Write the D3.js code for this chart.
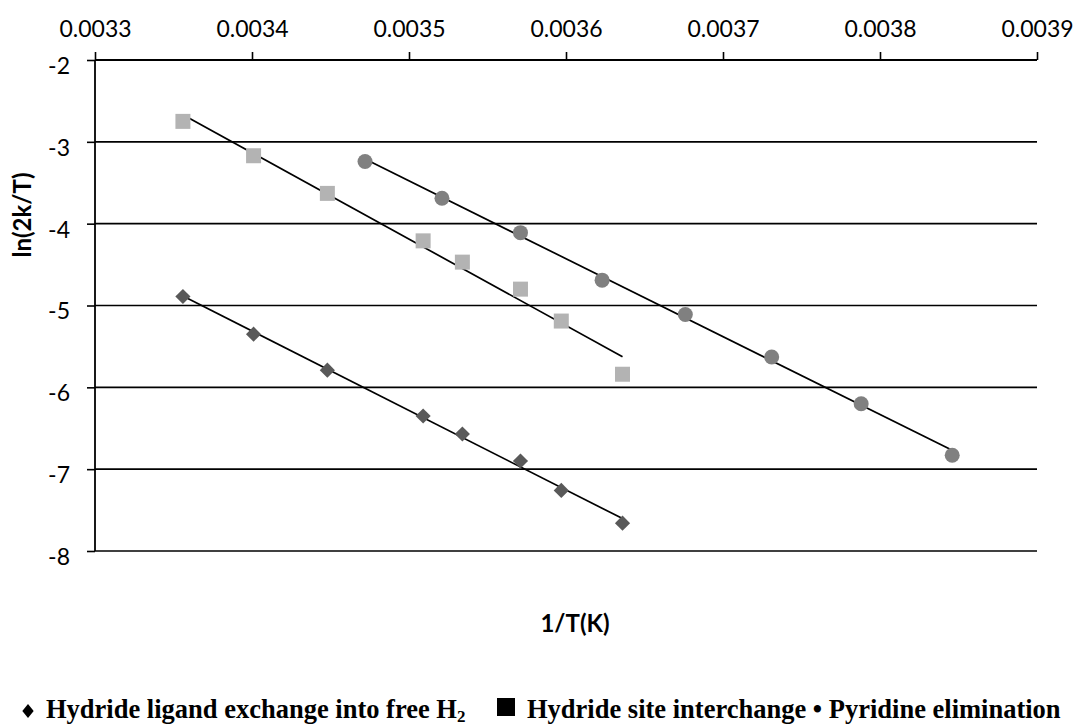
<!DOCTYPE html>
<html>
<head>
<meta charset="utf-8">
<script src="https://cdn.jsdelivr.net/npm/d3@7"></script>
<style>
  body { margin: 0; background: #fff; }
  svg { display: block; }
  .tick text { font-family: Lato, "Open Sans", sans-serif; font-size: 23px; fill: #000; }
  .axis-title { font-family: Lato, "Open Sans", sans-serif; font-size: 24px; font-weight: bold; }
  .legend { font-family: "Liberation Serif", "Times New Roman", serif; font-size: 26.5px; font-weight: bold; }
</style>
</head>
<body>
<script>
// 1/T values and ln(2k/T)
const invT_exchange = [0.003356, 0.003401, 0.003448, 0.003509, 0.003534, 0.003571, 0.003597, 0.003636]
const lnk_exchange = [-4.89, -5.35, -5.79, -6.35, -6.57, -6.90, -7.26, -7.66]

const invT_site = [0.003356, 0.003401, 0.003448, 0.003509, 0.003534, 0.003571, 0.003597, 0.003636]
const lnk_site = [-2.75, -3.17, -3.63, -4.21, -4.47, -4.80, -5.19, -5.84]

const invT_pyridine = [0.003472, 0.003521, 0.003571, 0.003623, 0.003676, 0.003731, 0.003788, 0.003846]
const lnk_pyridine = [-3.24, -3.69, -4.11, -4.69, -5.11, -5.63, -6.20, -6.83]

const xTicks = [0.0033, 0.0034, 0.0035, 0.0036, 0.0037, 0.0038, 0.0039]
const yTicks = [-2, -3, -4, -5, -6, -7, -8]

const width = 1078
const height = 726

const svg = d3.select("body")
    .append("svg")
    .attr("width", width)
    .attr("height", height)

const x = d3.scaleLinear()
    .domain([0.0033, 0.0039])
    .range([95, 1037])
const y = d3.scaleLinear()
    .domain([-8, -2])
    .range([551, 60])

// gridlines
svg.append("g")
    .selectAll("line")
    .data(yTicks.slice(1))
    .join("line")
    .attr("x1", x(0.0033))
    .attr("x2", x(0.0039))
    .attr("y1", d => y(d))
    .attr("y2", d => y(d))
    .attr("stroke", "#000")
    .attr("stroke-width", 1.6)

const xAxis = d3.axisTop(x)
    .tickValues(xTicks)
    .tickFormat(d3.format(".4f"))
    .tickSize(8)
    .tickPadding(15)
const yAxis = d3.axisLeft(y)
    .tickValues(yTicks)
    .tickFormat(d => String(d))
    .tickSize(8)
    .tickPadding(17)

const gx = svg.append("g")
    .attr("transform", `translate(0,${y(-2)})`)
    .call(xAxis)
const gy = svg.append("g")
    .attr("transform", `translate(${x(0.0033)},0)`)
    .call(yAxis)

for (const g of [gx, gy]) {
    g.select(".domain").remove()
    g.selectAll(".tick line").attr("stroke", "#000").attr("stroke-width", 1.6)
}
gy.selectAll(".tick text").attr("dy", "0.58em")

// axis lines
svg.append("line")
    .attr("x1", x(0.0033)).attr("x2", x(0.0039))
    .attr("y1", y(-2)).attr("y2", y(-2))
    .attr("stroke", "#000").attr("stroke-width", 1.8)
svg.append("line")
    .attr("x1", x(0.0033)).attr("x2", x(0.0033))
    .attr("y1", y(-2)).attr("y2", y(-8))
    .attr("stroke", "#000").attr("stroke-width", 1.8)

// least squares trendline over the series' x span
function fit(xs, ys) {
    const mx = d3.mean(xs), my = d3.mean(ys)
    const sxy = d3.sum(xs, (v, i) => (v - mx) * (ys[i] - my))
    const sxx = d3.sum(xs, v => (v - mx) * (v - mx))
    const b = sxy / sxx
    const a = my - b * mx
    const x0 = d3.min(xs), x1 = d3.max(xs)
    return [[x0, a + b * x0], [x1, a + b * x1]]
}

const series = [
    { xs: invT_exchange, ys: lnk_exchange, shape: "diamond", color: "#595959" },
    { xs: invT_site, ys: lnk_site, shape: "square", color: "#b3b3b3" },
    { xs: invT_pyridine, ys: lnk_pyridine, shape: "circle", color: "#808080" }
]

const line = d3.line()
    .x(d => x(d[0]))
    .y(d => y(d[1]))

series.forEach(s => {
    svg.append("path")
        .attr("d", line(fit(s.xs, s.ys)))
        .attr("fill", "none")
        .attr("stroke", "#000")
        .attr("stroke-width", 1.7)
})

const symbols = {
    diamond: d3.symbol(d3.symbolSquare, 115),
    square: d3.symbol(d3.symbolSquare, 225),
    circle: d3.symbol(d3.symbolCircle, 177)
}

series.forEach(s => {
    svg.append("g")
        .selectAll("path")
        .data(s.xs.map((v, i) => [v, s.ys[i]]))
        .join("path")
        .attr("d", symbols[s.shape])
        .attr("transform", d => `translate(${x(d[0])},${y(d[1])})` + (s.shape === "diamond" ? " rotate(45)" : ""))
        .attr("fill", s.color)
})

// axis titles
svg.append("text")
    .attr("class", "axis-title")
    .attr("transform", "translate(31,215) rotate(-90)")
    .attr("text-anchor", "middle")
    .text("ln(2k/T)")
svg.append("text")
    .attr("class", "axis-title")
    .attr("x", 575)
    .attr("y", 632)
    .attr("text-anchor", "middle")
    .text("1/T(K)")

// legend
svg.append("path")
    .attr("d", d3.symbol(d3.symbolSquare, 100)())
    .attr("transform", "translate(28,711) scale(0.8,1) rotate(45)")
    .attr("fill", "#000")
const t1 = svg.append("text")
    .attr("class", "legend")
    .attr("x", 46)
    .attr("y", 718)
t1.append("tspan").text("Hydride ligand exchange into free H")
t1.append("tspan").attr("font-size", "17px").attr("dy", 4).text("2")

svg.append("rect")
    .attr("x", 497)
    .attr("y", 698)
    .attr("width", 18)
    .attr("height", 18)
    .attr("fill", "#000")
svg.append("text")
    .attr("class", "legend")
    .attr("x", 527)
    .attr("y", 718)
    .text("Hydride site interchange \u2022 Pyridine elimination")
</script>
</body>
</html>
